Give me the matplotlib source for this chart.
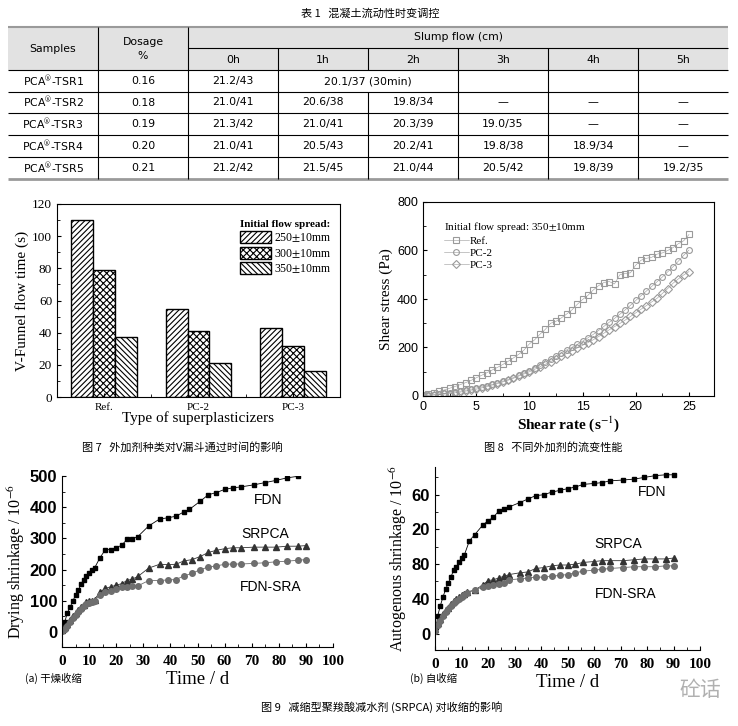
import matplotlib
matplotlib.use('Agg')
import matplotlib.pyplot as plt
from matplotlib.patches import Rectangle
from matplotlib.ticker import MultipleLocator

plt.rcParams['font.family'] = ['Noto Sans CJK SC', 'DejaVu Sans']
plt.rcParams['mathtext.fontset'] = 'stix'

SERIF = ['Liberation Serif', 'DejaVu Serif']
SANS = ['Liberation Sans', 'DejaVu Sans']
CJK = ['Noto Sans CJK SC', 'DejaVu Sans']

# ---- table 1 data ----
table_title = '表 1   混凝土流动性时变调控'
samples = ['PCA$^{®}$-TSR1', 'PCA$^{®}$-TSR2', 'PCA$^{®}$-TSR3', 'PCA$^{®}$-TSR4', 'PCA$^{®}$-TSR5']
dosage = ['0.16', '0.18', '0.19', '0.20', '0.21']
hours = ['0h', '1h', '2h', '3h', '4h', '5h']
slump = [
    ['21.2/43', '20.1/37 (30min)', None, '', '', ''],
    ['21.0/41', '20.6/38', '19.8/34', '—', '—', '—'],
    ['21.3/42', '21.0/41', '20.3/39', '19.0/35', '—', '—'],
    ['21.0/41', '20.5/43', '20.2/41', '19.8/38', '18.9/34', '—'],
    ['21.2/42', '21.5/45', '21.0/44', '20.5/42', '19.8/39', '19.2/35'],
]

# ---- fig 7 data ----
sp_types = ['Ref.', 'PC-2', 'PC-3']
spreads = ['250$\\pm$10mm', '300$\\pm$10mm', '350$\\pm$10mm']
funnel_time = [
    [110, 54.5, 43],
    [79, 41, 32],
    [37.5, 21, 16],
]

# ---- fig 8 data ----
shear_rate = [0, 0.5, 1, 1.5, 2, 2.5, 3, 3.5, 4, 4.5, 5, 5.5, 6, 6.5, 7, 7.5, 8, 8.5, 9, 9.5,
              10, 10.5, 11, 11.5, 12, 12.5, 13, 13.5, 14, 14.5, 15, 15.5, 16, 16.5, 17, 17.5,
              18, 18.5, 19, 19.5, 20, 20.5, 21, 21.5, 22, 22.5, 23, 23.5, 24, 24.5, 25]
stress_ref = [5, 9, 14, 19, 25, 32, 39, 47, 55, 64, 75, 85, 96, 107, 118, 130, 143, 157, 172, 190,
              215, 232, 255, 275, 300, 308, 322, 338, 355, 378, 398, 415, 437, 455, 468, 472,
              462, 500, 505, 508, 540, 560, 568, 572, 585, 590, 600, 612, 628, 640, 666]
stress_pc2 = [2, 4, 6, 9, 11, 14, 17, 20, 24, 28, 33, 37, 42, 48, 54, 61, 68, 76, 85, 95,
              105, 116, 128, 140, 153, 166, 178, 190, 201, 213, 226, 240, 254, 270, 287, 304,
              320, 337, 355, 374, 394, 414, 433, 452, 471, 491, 512, 533, 556, 580, 602]
stress_pc3 = [1, 2, 4, 6, 8, 10, 13, 16, 20, 24, 28, 33, 39, 45, 51, 58, 65, 73, 82, 91,
              100, 110, 121, 131, 142, 153, 164, 175, 187, 198, 209, 220, 232, 245, 259, 273,
              286, 299, 313, 328, 343, 358, 373, 388, 403, 423, 443, 465, 483, 499, 513]

# ---- fig 9a data ----
dry_t = [0, 1, 2, 3, 4, 5, 6, 7, 8, 9, 10, 11, 12, 14, 16, 18, 20, 22, 24, 26, 28, 32, 36, 39,
         42, 45, 47, 51, 54, 57, 60, 63, 66, 71, 75, 79, 83, 87]
dry_fdn = [5, 32, 62, 80, 99, 119, 134, 153, 168, 180, 189, 198, 205, 238, 264, 264, 270, 278,
           297, 299, 306, 340, 362, 366, 371, 385, 393, 419, 440, 447, 457, 462, 465, 472, 479,
           486, 494, 499]
dry_t2 = [0, 1, 2, 3, 4, 5, 6, 7, 8, 9, 10, 11, 12, 14, 16, 18, 20, 22, 24, 26, 28, 32, 36, 39,
          42, 45, 48, 51, 54, 57, 60, 63, 66, 71, 75, 79, 83, 87, 90]
dry_srpca = [5, 15, 25, 38, 50, 60, 70, 80, 88, 95, 98, 100, 104, 128, 140, 145, 150, 155, 165,
             170, 178, 205, 217, 216, 217, 228, 232, 242, 255, 262, 267, 270, 270, 272, 272, 272,
             275, 275, 277]
dry_sra = [3, 10, 20, 32, 45, 55, 65, 75, 83, 90, 93, 97, 100, 120, 127, 130, 138, 143, 145, 147,
           148, 165, 165, 167, 168, 180, 188, 200, 208, 212, 217, 218, 218, 220, 222, 225, 227,
           230, 232]

# ---- fig 9b data ----
auto_t = [0.5, 1, 2, 3, 4, 5, 6, 7, 8, 9, 10, 11, 13, 15, 18, 20, 22, 24, 26, 28, 32, 35, 38, 41,
          44, 47, 50, 53, 56, 60, 63, 66, 71, 75, 79, 83, 87, 90]
auto_fdn = [8, 20, 32, 42, 51, 58, 65, 73, 77, 82, 87, 90, 107, 114, 125, 130, 134, 141, 143, 146,
            151, 155, 159, 160, 163, 165, 167, 169, 172, 173, 174, 176, 177, 178, 180, 182, 183, 183]
auto_t2 = [0, 1, 2, 3, 4, 5, 6, 7, 8, 9, 10, 11, 12, 15, 18, 20, 22, 24, 26, 28, 32, 35, 38, 41,
           44, 47, 50, 53, 56, 60, 63, 66, 71, 75, 79, 83, 87, 90]
auto_srpca = [5, 12, 17, 22, 27, 30, 34, 37, 40, 42, 44, 46, 48, 50, 56, 61, 62, 64, 66, 68, 70,
              71, 75, 76, 78, 79, 79, 80, 82, 83, 84, 84, 84, 85, 86, 86, 86, 87]
auto_sra = [3, 10, 15, 20, 25, 28, 32, 35, 38, 40, 42, 44, 47, 50, 54, 55, 56, 57, 58, 62, 63,
            64, 65, 65, 66, 67, 68, 70, 72, 73, 74, 75, 76, 77, 77, 77, 78, 78]
auto_ticks = [0, 40, 80, 120, 160]
auto_ticklabels = ['0', '40', '80', '20', '60']

fig = plt.figure(figsize=(7.38, 7.26), dpi=100)

# background axes in pixel coordinates for table + captions
bg = fig.add_axes([0, 0, 1, 1])
bg.set_xlim(0, 738)
bg.set_ylim(726, 0)
bg.axis('off')

# table
cols = [8, 98, 188, 278, 368, 458, 548, 638, 728]
rows = [70, 92, 113, 135, 157, 179]
bg.add_patch(Rectangle((8, 27), 720, 43, color='#e2e2e2', lw=0))
bg.text(370, 14, table_title, ha='center', va='center', fontsize=8, family=CJK)
bg.hlines(27, 8, 728, color='#9a9a9a', lw=1.5)
bg.hlines(48, 188, 728, color='black', lw=0.8)
bg.hlines(rows[:-1], 8, 728, color='black', lw=0.8)
bg.hlines(179, 8, 728, color='#9a9a9a', lw=2)
bg.vlines([98, 188], 27, 179, color='black', lw=0.8)
for x in cols[3:-1]:
    bg.vlines(x, 48, 70, color='black', lw=0.8)
    for r in range(5):
        if x == 368 and r == 0:
            continue
        bg.vlines(x, rows[r], rows[r + 1], color='black', lw=0.8)
tfont = dict(fontsize=7.8, family=['DejaVu Sans'], ha='center', va='center')
bg.text(53, 49, 'Samples', **tfont)
bg.text(143, 42, 'Dosage', **tfont)
bg.text(143, 56, '%', **tfont)
bg.text(458, 37, 'Slump flow (cm)', **tfont)
for j, h in enumerate(hours):
    bg.text((cols[j + 2] + cols[j + 3]) / 2, 60, h, **tfont)
for r in range(5):
    yc = (rows[r] + rows[r + 1]) / 2
    bg.text(53, yc, samples[r], **tfont)
    bg.text(143, yc, dosage[r], **tfont)
    for j, v in enumerate(slump[r]):
        if v is None:
            continue
        if r == 0 and j == 1:
            xc = cols[4]
        else:
            xc = (cols[j + 2] + cols[j + 3]) / 2
        bg.text(xc, yc, v, **tfont)

# captions
bg.text(182, 447, '图 7   外加剂种类对V漏斗通过时间的影响', ha='center', va='center', fontsize=8, family=CJK)
bg.text(553, 447, '图 8   不同外加剂的流变性能', ha='center', va='center', fontsize=8, family=CJK)
bg.text(25, 678, '(a) 干燥收缩', ha='left', va='center', fontsize=7.5, family=CJK)
bg.text(410, 678, '(b) 自收缩', ha='left', va='center', fontsize=7.5, family=CJK)
bg.text(382, 707, '图 9   减缩型聚羧酸减水剂 (SRPCA) 对收缩的影响', ha='center', va='center', fontsize=8, family=CJK)
bg.text(700, 690, '砼话', ha='center', va='center', fontsize=15, color='#b0b0b0', family=CJK)

# ---- fig 7 bar chart ----
ax1 = fig.add_axes([57 / 738, 1 - 397 / 726, 283 / 738, 193 / 726])
hatches = ['//////', 'xxxxx', '\\\\\\\\\\\\']
w = 0.233
plt.rcParams['hatch.linewidth'] = 0.8
for k in range(3):
    pos = [i + (k - 1) * w for i in range(3)]
    ax1.bar(pos, funnel_time[k], width=w, facecolor='white', edgecolor='black',
            hatch=hatches[k], lw=1.0, label=spreads[k])
ax1.set_xlim(-0.5, 2.5)
ax1.set_ylim(0, 120)
ax1.set_xticks(range(3))
ax1.set_xticklabels(sp_types, family=SERIF, fontsize=8)
ax1.xaxis.set_minor_locator(MultipleLocator(0.5))
ax1.yaxis.set_major_locator(MultipleLocator(20))
ax1.yaxis.set_minor_locator(MultipleLocator(10))
ax1.tick_params(which='both', direction='in', top=False, right=False)
ax1.tick_params(axis='x', which='major', length=0, pad=4)
ax1.tick_params(which='major', length=3)
ax1.tick_params(which='minor', length=2)
for lab in ax1.get_yticklabels():
    lab.set_family(SERIF)
    lab.set_fontsize(9.5)
ax1.set_ylabel('V-Funnel flow time (s)', family=SERIF, fontsize=11, labelpad=2)
ax1.set_xlabel('Type of superplasticizers', family=SERIF, fontsize=11, labelpad=0)
leg = ax1.legend(title='Initial flow spread:', loc='upper right', frameon=False,
                 prop={'family': SERIF, 'size': 8.5}, handlelength=2.6, handleheight=1.2,
                 labelspacing=0.2, handletextpad=0.3, borderaxespad=0.3,
                 bbox_to_anchor=(1.0, 0.96), alignment='left')
leg.get_title().set_family(SERIF)
leg.get_title().set_fontsize(8)
leg.get_title().set_fontweight('bold')

# ---- fig 8 rheology ----
ax2 = fig.add_axes([423 / 738, 1 - 396 / 726, 291 / 738, 194 / 726])
mk = dict(mfc='none', mec='#9a9a9a', mew=0.8, ms=4.2, color='#9a9a9a', lw=0.4)
ax2.plot(shear_rate, stress_ref, marker='s', label='Ref.', **mk)
ax2.plot(shear_rate, stress_pc2, marker='o', label='PC-2', **mk)
ax2.plot(shear_rate, stress_pc3, marker='D', label='PC-3', **{**mk, 'ms': 4})
ax2.set_xlim(0, 27.35)
ax2.set_ylim(0, 800)
ax2.xaxis.set_major_locator(MultipleLocator(5))
ax2.xaxis.set_minor_locator(MultipleLocator(2.5))
ax2.yaxis.set_major_locator(MultipleLocator(200))
ax2.yaxis.set_minor_locator(MultipleLocator(100))
ax2.tick_params(which='both', direction='in', top=False, right=False, labelsize=9)
ax2.tick_params(which='major', length=3)
ax2.tick_params(which='minor', length=2)
for lab in ax2.get_xticklabels() + ax2.get_yticklabels():
    lab.set_family(SANS)
ax2.set_ylabel('Shear stress (Pa)', family=SERIF, fontsize=11, labelpad=3)
ax2.set_xlabel('Shear rate (s$^{-1}$)', family=SERIF, fontsize=11, fontweight='bold', labelpad=1)
leg2 = ax2.legend(title='Initial flow spread: 350$\\pm$10mm', loc='upper left', frameon=False,
                  prop={'family': SERIF, 'size': 8}, numpoints=1, handlelength=2.2,
                  labelspacing=0.2, handletextpad=0.1, borderaxespad=0.2,
                  bbox_to_anchor=(0.05, 0.94), alignment='left')
leg2.get_title().set_family(SERIF)
leg2.get_title().set_fontsize(8)

# ---- fig 9 shrinkage ----
def shrink_style(ax):
    ax.spines['top'].set_visible(False)
    ax.spines['right'].set_visible(False)
    ax.set_xlim(0, 100)
    ax.xaxis.set_major_locator(MultipleLocator(10))
    ax.xaxis.set_minor_locator(MultipleLocator(5))
    ax.tick_params(which='both', direction='in', labelsize=11)
    ax.tick_params(which='major', length=3)
    ax.tick_params(which='minor', length=2)
    ax.tick_params(axis='x', pad=6)
    for lab in ax.get_xticklabels():
        lab.set_family(SERIF)
        lab.set_fontweight('bold')
    for lab in ax.get_yticklabels():
        lab.set_family(SANS)
        lab.set_fontweight('bold')
        lab.set_fontsize(12)
    ax.set_xlabel('Time / d', family=SERIF, fontsize=13.5, labelpad=2)

ax3 = fig.add_axes([62 / 738, 1 - 647 / 726, 271 / 738, 171 / 726])
ax3.plot(dry_t, dry_fdn, marker='s', ms=3.5, color='black', lw=0.6)
ax3.plot(dry_t2, dry_srpca, marker='^', ms=4, color='#333333', lw=0.6)
ax3.plot(dry_t2, dry_sra, marker='o', ms=4, color='#6e6e6e', lw=0.6)
ax3.set_ylim(-48, 500)
ax3.yaxis.set_major_locator(MultipleLocator(100))
ax3.yaxis.set_minor_locator(MultipleLocator(50))
shrink_style(ax3)
ax3.set_ylabel('Drying shrinkage / 10$^{-6}$', family=SERIF, fontsize=11.5, labelpad=2)
ax3.text(76, 422, 'FDN', ha='center', va='center', fontsize=10, family=SANS)
ax3.text(75, 313, 'SRPCA', ha='center', va='center', fontsize=10, family=SANS)
ax3.text(77, 144, 'FDN-SRA', ha='center', va='center', fontsize=10, family=SANS)

ax4 = fig.add_axes([435 / 738, 1 - 650 / 726, 265 / 738, 183 / 726])
ax4.plot(auto_t, auto_fdn, marker='s', ms=3.5, color='black', lw=0.6)
ax4.plot(auto_t2, auto_srpca, marker='^', ms=4, color='#333333', lw=0.6)
ax4.plot(auto_t2, auto_sra, marker='o', ms=4, color='#6e6e6e', lw=0.6)
ax4.set_ylim(-19, 192)
ax4.set_yticks(auto_ticks)
ax4.set_yticklabels(auto_ticklabels)
ax4.yaxis.set_minor_locator(MultipleLocator(20))
shrink_style(ax4)
ax4.set_ylabel('Autogenous shrinkage / 10$^{-6}$', family=SERIF, fontsize=11.5, labelpad=2)
ax4.text(82, 163, 'FDN', ha='center', va='center', fontsize=10, family=SANS)
ax4.text(69, 103, 'SRPCA', ha='center', va='center', fontsize=10, family=SANS)
ax4.text(72, 46, 'FDN-SRA', ha='center', va='center', fontsize=10, family=SANS)

fig.savefig('out.png', dpi=100)
